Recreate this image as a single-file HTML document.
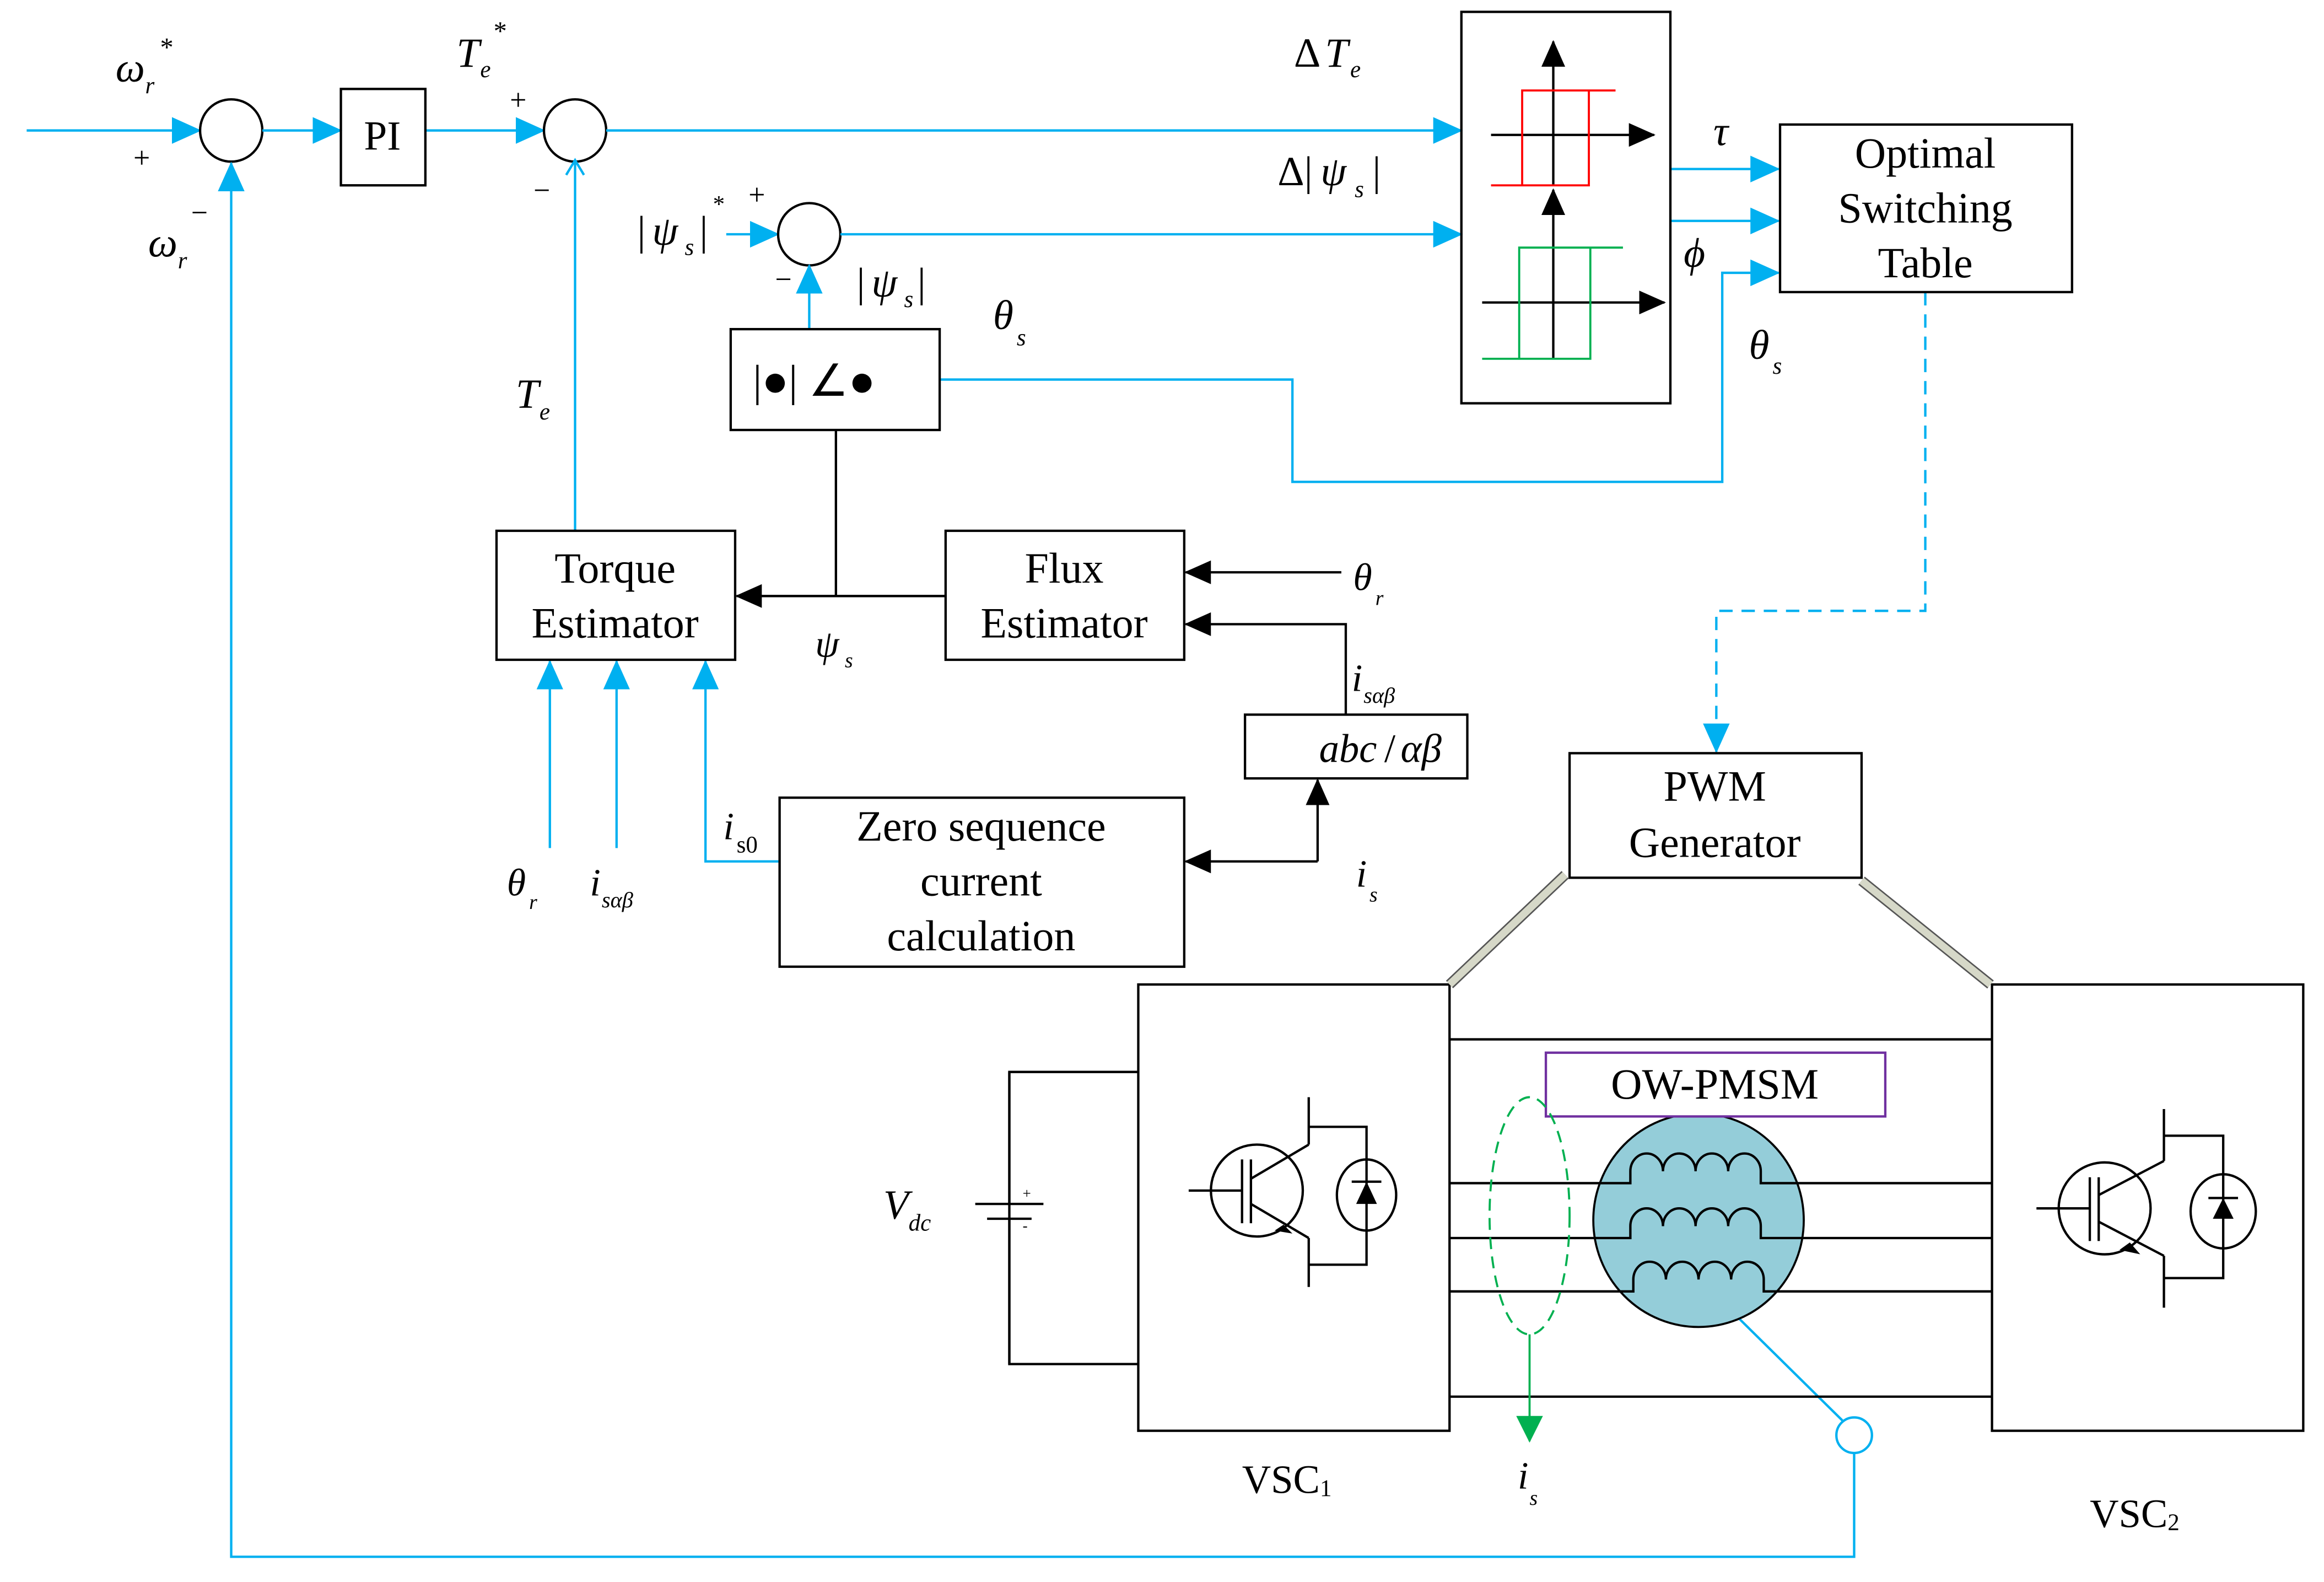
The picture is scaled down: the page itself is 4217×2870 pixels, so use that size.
<!DOCTYPE html>
<html><head><meta charset="utf-8"><style>
html,body{margin:0;padding:0;background:#fff;}
svg{display:block;}
text{font-family:"Liberation Serif",serif;fill:#000;}
.i{font-style:italic;}
</style></head><body>
<svg width="4217" height="2870" viewBox="0 0 1568 1067" preserveAspectRatio="none" xmlns="http://www.w3.org/2000/svg">
<defs>
<marker id="abig" markerWidth="20" markerHeight="18" refX="19" refY="9" orient="auto" markerUnits="userSpaceOnUse" viewBox="0 0 20 18"><path d="M0,0 L20,9 L0,18Z" fill="#00b0f0"/></marker>
<marker id="ak" markerWidth="18" markerHeight="16" refX="17" refY="8" orient="auto" markerUnits="userSpaceOnUse" viewBox="0 0 18 16"><path d="M0,0 L18,8 L0,16Z" fill="#000"/></marker>
<marker id="ag" markerWidth="18" markerHeight="18" refX="17" refY="9" orient="auto" markerUnits="userSpaceOnUse" viewBox="0 0 18 18"><path d="M0,0 L18,9 L0,18Z" fill="#00b050"/></marker>
</defs>
<g fill="none" stroke="#00b0f0" stroke-width="1.6">
<line x1="18" y1="88" x2="135" y2="88" marker-end="url(#abig)"/>
<circle cx="156" cy="88" r="21" stroke="#000"/>
<line x1="177" y1="88" x2="230" y2="88" marker-end="url(#abig)"/>
<line x1="287" y1="88" x2="367" y2="88" marker-end="url(#abig)"/>
<circle cx="388" cy="88" r="21" stroke="#000"/>
<line x1="409" y1="88" x2="986" y2="88" marker-end="url(#abig)"/>
<polyline points="388,358 388,110" />
<polyline points="382,118 388,108 394,118" />
<line x1="490" y1="158" x2="525" y2="158" marker-end="url(#abig)"/>
<circle cx="546" cy="158" r="21" stroke="#000"/>
<line x1="567" y1="158" x2="986" y2="158" marker-end="url(#abig)"/>
<line x1="546" y1="222" x2="546" y2="179" marker-end="url(#abig)"/>
<polyline points="634,256 872,256 872,325 1162,325 1162,184 1200,184" marker-end="url(#abig)"/>
<line x1="1127" y1="114" x2="1200" y2="114" marker-end="url(#abig)"/>
<line x1="1127" y1="149" x2="1200" y2="149" marker-end="url(#abig)"/>
<polyline points="1299,197 1299,412 1158,412 1158,507" stroke-dasharray="9,6" marker-end="url(#abig)"/>
<polyline points="526,581 476,581 476,446" marker-end="url(#abig)"/>
<line x1="371" y1="572" x2="371" y2="446" marker-end="url(#abig)"/>
<line x1="416" y1="572" x2="416" y2="446" marker-end="url(#abig)"/>
<line x1="1172" y1="888" x2="1243" y2="958"/>
<circle cx="1251" cy="968" r="12"/>
<polyline points="1251,980 1251,1050 156,1050 156,110" marker-end="url(#abig)"/>
</g>
<g fill="none" stroke="#000" stroke-width="1.6">
<rect x="230" y="60" width="57" height="65"/>
<rect x="986" y="8" width="141" height="264"/>
<rect x="1201" y="84" width="197" height="113"/>
<rect x="493" y="222" width="141" height="68"/>
<rect x="335" y="358" width="161" height="87"/>
<rect x="638" y="358" width="161" height="87"/>
<rect x="840" y="482" width="150" height="43"/>
<rect x="526" y="538" width="273" height="114"/>
<rect x="1059" y="508" width="197" height="84"/>
<rect x="768" y="664" width="210" height="301"/>
<rect x="1344" y="664" width="210" height="301"/>
<line x1="638" y1="402" x2="497" y2="402" marker-end="url(#ak)"/>
<line x1="564" y1="290" x2="564" y2="402"/>
<line x1="905" y1="386" x2="800" y2="386" marker-end="url(#ak)"/>
<polyline points="908,482 908,421 800,421" marker-end="url(#ak)"/>
<polyline points="889,581 800,581" marker-end="url(#ak)"/>
<polyline points="889,581 889,526" marker-end="url(#ak)"/>
<line x1="1048" y1="125" x2="1048" y2="28" marker-end="url(#ak)"/>
<line x1="1006" y1="91" x2="1116" y2="91" marker-end="url(#ak)"/>
<line x1="1048" y1="242" x2="1048" y2="128" marker-end="url(#ak)"/>
<line x1="1000" y1="204" x2="1123" y2="204" marker-end="url(#ak)"/>
<line x1="978" y1="701" x2="1344" y2="701"/>
<line x1="978" y1="942" x2="1344" y2="942"/>
<polyline points="768,723 681,723 681,920 768,920"/>
</g>
<g fill="none" stroke="#ff0000" stroke-width="1.4">
<polyline points="1090,61 1027,61 1027,125"/>
<polyline points="1006,125 1072,125 1072,61"/>
</g>
<g fill="none" stroke="#00b050" stroke-width="1.4">
<polyline points="1095,167 1025,167 1025,242"/>
<polyline points="1000,242 1073,242 1073,167"/>
</g>
<ellipse cx="1146" cy="823" rx="71" ry="72" fill="#94cdd9" stroke="#000" stroke-width="1.4"/>
<g fill="none" stroke="#000" stroke-width="1.6">
<path d="M978,798 H1100 V790 a11,12 0 0 1 22,0 a11,12 0 0 1 22,0 a11,12 0 0 1 22,0 a11,12 0 0 1 22,0 V798 H1344"/>
<path d="M978,835 H1100 V827 a11,12 0 0 1 22,0 a11,12 0 0 1 22,0 a11,12 0 0 1 22,0 a11,12 0 0 1 22,0 V835 H1344"/>
<path d="M978,871 H1102 V863 a11,12 0 0 1 22,0 a11,12 0 0 1 22,0 a11,12 0 0 1 22,0 a11,12 0 0 1 22,0 V871 H1344"/>
</g>
<rect x="1043" y="710" width="229" height="43" fill="#fff" stroke="#7030a0" stroke-width="1.6"/>
<ellipse cx="1032" cy="820" rx="27" ry="80" fill="none" stroke="#00b050" stroke-width="1.4" stroke-dasharray="8,5"/>
<line x1="1032" y1="900" x2="1032" y2="972" stroke="#00b050" stroke-width="1.4" marker-end="url(#ag)"/>
<g stroke="#555" stroke-width="7"><line x1="1056" y1="590" x2="978" y2="664"/><line x1="1256" y1="594" x2="1343" y2="664"/></g>
<g stroke="#d6d8c8" stroke-width="5"><line x1="1056" y1="590" x2="978" y2="664"/><line x1="1256" y1="594" x2="1343" y2="664"/></g>
<g stroke="#000" stroke-width="1.6" fill="none">
<line x1="658" y1="812" x2="704" y2="812"/><line x1="666" y1="822" x2="696" y2="822"/>
<line x1="681" y1="723" x2="681" y2="812"/><line x1="681" y1="822" x2="681" y2="920"/>
</g>
<text x="690" y="808" font-size="10">+</text><text x="690" y="830" font-size="10">-</text>
<g stroke="#000" stroke-width="1.6" fill="none">
<circle cx="848" cy="803" r="31"/>
<line x1="802" y1="803" x2="838" y2="803"/>
<line x1="838" y1="782" x2="838" y2="825"/><line x1="844" y1="782" x2="844" y2="825"/>
<line x1="844" y1="795" x2="883" y2="772"/><line x1="844" y1="812" x2="883" y2="835"/>
<polyline points="883,740 883,772"/><polyline points="883,835 883,868"/>
<polyline points="883,760 922,760 922,853 883,853"/>
<ellipse cx="922" cy="806" rx="20" ry="24"/>
<line x1="912" y1="797" x2="932" y2="797"/>
</g>
<path d="M866,826 L872,832 L860,830Z M922,797 L915,812 L929,812Z" fill="#000"/>
<g stroke="#000" stroke-width="1.6" fill="none">
<circle cx="1420" cy="815" r="31"/>
<line x1="1374" y1="815" x2="1410" y2="815"/>
<line x1="1410" y1="794" x2="1410" y2="837"/><line x1="1416" y1="794" x2="1416" y2="837"/>
<line x1="1416" y1="806" x2="1460" y2="783"/><line x1="1416" y1="824" x2="1460" y2="847"/>
<polyline points="1460,748 1460,783"/><polyline points="1460,847 1460,882"/>
<polyline points="1460,766 1500,766 1500,862 1460,862"/>
<ellipse cx="1500" cy="817" rx="22" ry="25"/>
<line x1="1490" y1="808" x2="1510" y2="808"/>
</g>
<path d="M1437,838 L1444,846 L1430,843Z M1500,808 L1493,822 L1507,822Z" fill="#000"/>
<text x="258" y="101" font-size="28" text-anchor="middle">PI</text>
<text class="i" x="78" y="55" font-size="28">ω</text><text class="i" x="98" y="63" font-size="16">r</text><text x="108" y="38" font-size="18">*</text>
<text x="90" y="113" font-size="20">+</text>
<text class="i" x="100" y="173" font-size="28">ω</text><text class="i" x="120" y="181" font-size="16">r</text>
<text x="129" y="150" font-size="20">−</text>
<text class="i" x="308" y="45" font-size="28">T</text><text class="i" x="324" y="52" font-size="16">e</text><text x="333" y="27" font-size="18">*</text>
<text x="344" y="74" font-size="20">+</text><text x="360" y="135" font-size="20">−</text>
<text x="873" y="45" font-size="28">Δ</text><text class="i" x="894" y="45" font-size="28">T</text><text class="i" x="911" y="52" font-size="16">e</text>
<text x="862" y="125" font-size="28">Δ|</text><text class="i" x="891" y="125" font-size="28">ψ</text><text class="i" x="914" y="133" font-size="16">s</text><text x="926" y="125" font-size="28">|</text>
<text x="430" y="165" font-size="28">|</text><text class="i" x="440" y="165" font-size="28">ψ</text><text class="i" x="462" y="172" font-size="16">s</text><text x="472" y="165" font-size="28">|</text><text x="481" y="143" font-size="16">*</text>
<text x="505" y="138" font-size="20">+</text><text x="523" y="195" font-size="20">−</text>
<text x="578" y="200" font-size="28">|</text><text class="i" x="588" y="200" font-size="28">ψ</text><text class="i" x="610" y="207" font-size="16">s</text><text x="619" y="200" font-size="28">|</text>
<text x="508" y="267" font-size="30">|●| ∠●</text>
<text class="i" x="670" y="222" font-size="28">θ</text><text class="i" x="686" y="233" font-size="16">s</text>
<text class="i" x="1180" y="242" font-size="28">θ</text><text class="i" x="1196" y="252" font-size="16">s</text>
<text class="i" x="1156" y="98" font-size="28">τ</text>
<text class="i" x="1136" y="180" font-size="28">ϕ</text>
<g font-size="29" text-anchor="middle">
<text x="1299" y="113">Optimal</text><text x="1299" y="150">Switching</text><text x="1299" y="187">Table</text>
<text x="415" y="393">Torque</text><text x="415" y="430">Estimator</text>
<text x="718" y="393">Flux</text><text x="718" y="430">Estimator</text>
<text x="662" y="567">Zero sequence</text><text x="662" y="604">current</text><text x="662" y="641">calculation</text>
<text x="1157" y="540">PWM</text><text x="1157" y="578">Generator</text>
<text x="1157" y="741">OW-PMSM</text>
</g>
<text class="i" x="348" y="275" font-size="28">T</text><text class="i" x="364" y="283" font-size="16">e</text>
<text class="i" x="550" y="443" font-size="26">ψ</text><text class="i" x="570" y="450" font-size="14">s</text>
<text class="i" x="913" y="398" font-size="26">θ</text><text class="i" x="928" y="408" font-size="14">r</text>
<text class="i" x="912" y="466" font-size="26">i</text><text class="i" x="920" y="474" font-size="15">sαβ</text>
<text class="i" x="890" y="514" font-size="27">abc</text><text x="934" y="514" font-size="27">/</text><text class="i" x="945" y="514" font-size="27">αβ</text>
<text class="i" x="915" y="598" font-size="26">i</text><text class="i" x="924" y="608" font-size="14">s</text>
<text class="i" x="488" y="566" font-size="26">i</text><text x="497" y="575" font-size="16">s0</text>
<text class="i" x="342" y="604" font-size="26">θ</text><text class="i" x="357" y="613" font-size="14">r</text>
<text class="i" x="398" y="604" font-size="26">i</text><text class="i" x="406" y="612" font-size="15">sαβ</text>
<text class="i" x="596" y="822" font-size="28">V</text><text class="i" x="613" y="830" font-size="16">dc</text>
<text x="838" y="1007" font-size="27">VSC<tspan font-size="16" dy="2">1</tspan></text>
<text x="1410" y="1030" font-size="27">VSC<tspan font-size="16" dy="2">2</tspan></text>
<text class="i" x="1024" y="1004" font-size="26">i</text><text class="i" x="1032" y="1015" font-size="14">s</text>
</svg>
</body></html>
